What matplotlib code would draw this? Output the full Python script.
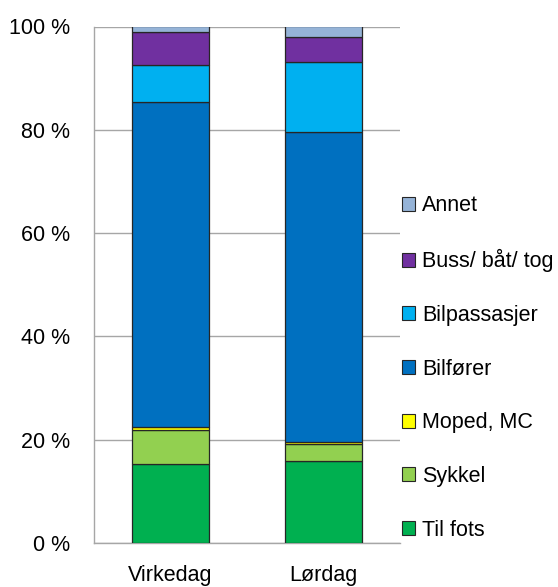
import matplotlib
matplotlib.use("Agg")
import matplotlib.pyplot as plt
from matplotlib.patches import Patch

plt.rcParams['font.family'] = ['Liberation Sans', 'DejaVu Sans']

categories = ["Virkedag", "Lørdag"]
modes = ["Til fots", "Sykkel", "Moped, MC", "Bilfører", "Bilpassasjer", "Buss/ båt/ tog", "Annet"]
til_fots = [15.3, 15.9]
sykkel = [6.5, 3.2]
moped = [0.6, 0.5]
bilforer = [62.9, 60.0]
bilpassasjer = [7.2, 13.5]
buss = [6.5, 4.9]
annet = [1.0, 2.0]
series = [til_fots, sykkel, moped, bilforer, bilpassasjer, buss, annet]
colors = ["#00B050", "#92D050", "#FFFF00", "#0070C0", "#00B0F0", "#7030A0", "#95B3D7"]
yticks = [0, 20, 40, 60, 80, 100]
ytick_labels = ["0 %", "20 %", "40 %", "60 %", "80 %", "100 %"]

FS = 15.5

fig = plt.figure(figsize=(5.58, 5.87), dpi=100)
ax = fig.add_axes([94/558, 44/587, 306/558, (543-26.5)/587])

x = list(range(len(categories)))
bottoms = [0.0] * len(categories)
for vals, col, lab in zip(series, colors, modes):
    ax.bar(x, vals, width=0.5, bottom=bottoms, color=col, edgecolor="#262626",
           linewidth=0.9, label=lab, zorder=3)
    bottoms = [b + v for b, v in zip(bottoms, vals)]

ax.set_xlim(-0.5, 1.5)
ax.set_ylim(0, 100)
ax.set_yticks(yticks)
ax.set_yticklabels(ytick_labels)
ax.set_xticks(x)
ax.set_xticklabels(categories)
ax.tick_params(axis='y', length=0, pad=17, labelsize=FS, colors="#000000")
ax.tick_params(axis='x', length=0, pad=15.5, labelsize=FS)
ax.yaxis.grid(True, color="#A6A6A6", linewidth=1.0, zorder=0)
ax.set_axisbelow(True)
for s in ["top", "right"]:
    ax.spines[s].set_visible(False)
for s in ["left", "bottom"]:
    ax.spines[s].set_color("#A6A6A6")
    ax.spines[s].set_linewidth(1.0)

handles = [Patch(facecolor=c, edgecolor="#262626", linewidth=0.8, label=l)
           for c, l in zip(colors, modes)][::-1]
leg = fig.legend(handles=handles, loc="center left", bbox_to_anchor=(402/558, 1 - 368/587),
                 frameon=False, fontsize=FS, handlelength=0.62, handleheight=0.62,
                 handletextpad=0.3, labelspacing=1.52, borderpad=0, borderaxespad=0)

fig.savefig("out.png", dpi=100)
